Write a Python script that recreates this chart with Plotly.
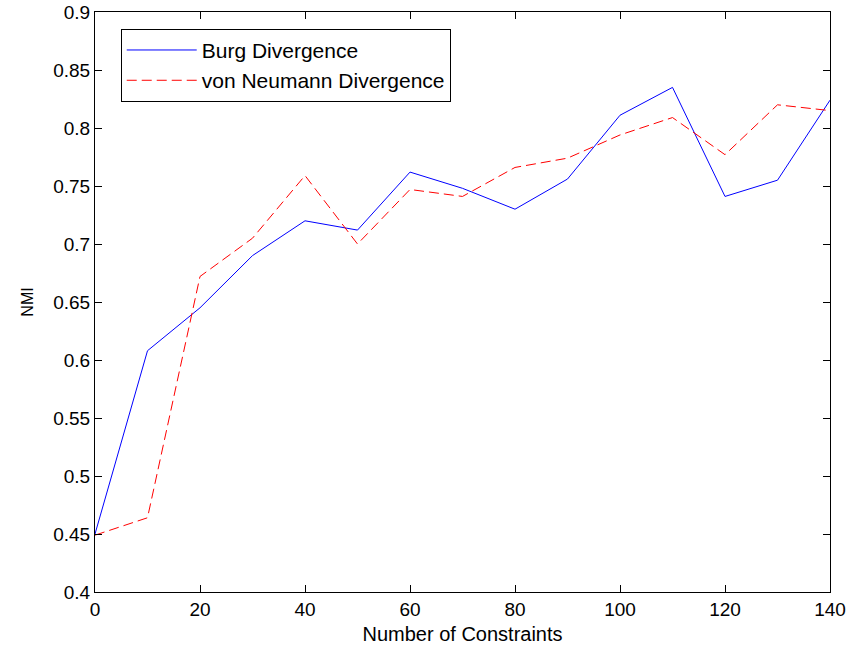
import plotly.graph_objects as go

constraints = [0, 10, 20, 30, 40, 50, 60, 70, 80, 90, 100, 110, 120, 130, 140]
burg = [0.450, 0.608, 0.645, 0.690, 0.720, 0.712, 0.762, 0.748, 0.730, 0.756, 0.811, 0.835, 0.741, 0.755, 0.824]
von_neumann = [0.449, 0.464, 0.672, 0.705, 0.759, 0.700, 0.747, 0.741, 0.766, 0.774, 0.794, 0.809, 0.777, 0.820, 0.815]

x_ticks = [0, 20, 40, 60, 80, 100, 120, 140]
y_ticks = [0.4, 0.45, 0.5, 0.55, 0.6, 0.65, 0.7, 0.75, 0.8, 0.85, 0.9]
y_labels = ["0.4", "0.45", "0.5", "0.55", "0.6", "0.65", "0.7", "0.75", "0.8", "0.85", "0.9"]

font = "Liberation Sans, Arial, sans-serif"

fig = go.Figure()
fig.add_trace(go.Scatter(x=constraints, y=burg, mode="lines", name="Burg Divergence",
                         line=dict(color="#0000ff", width=1)))
fig.add_trace(go.Scatter(x=constraints, y=von_neumann, mode="lines", name="von Neumann Divergence",
                         line=dict(color="#ff0000", width=1, dash="10px,5px")))

axis_common = dict(showline=True, linecolor="black", linewidth=1, mirror="ticks",
                   ticks="inside", ticklen=7, tickcolor="black", showgrid=False,
                   zeroline=False, automargin=False,
                   tickfont=dict(family=font, size=19, color="black"))

fig.update_xaxes(range=[0, 140], tickvals=x_ticks, ticktext=[str(v) for v in x_ticks],
                 title=dict(text="Number of Constraints", font=dict(family=font, size=20, color="black"), standoff=8),
                 **axis_common)
fig.update_yaxes(range=[0.4, 0.9], tickvals=y_ticks, ticktext=y_labels,
                 title=dict(text="NMI", font=dict(family=font, size=16, color="black"), standoff=15),
                 **axis_common)

fig.update_layout(
    width=858, height=646,
    margin=dict(l=95, r=28, t=12, b=54),
    plot_bgcolor="white", paper_bgcolor="white",
    font=dict(family=font, size=19, color="black"),
    legend=dict(x=0.035, y=0.971, xanchor="left", yanchor="top",
                bordercolor="black", borderwidth=1, bgcolor="white",
                itemwidth=70,
                font=dict(family=font, size=21, color="black")),
)

fig.write_html("out.html", config={"displayModeBar": False},
               post_script="document.body.style.margin='0';")
